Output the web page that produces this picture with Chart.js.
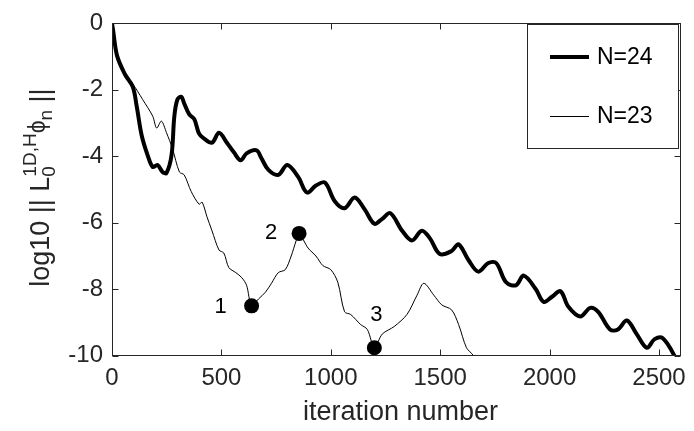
<!DOCTYPE html>
<html><head><meta charset="utf-8">
<script src="https://cdn.jsdelivr.net/npm/chart.js@4/dist/chart.umd.min.js"></script>
<style>html,body{margin:0;padding:0;background:#fff}</style>
</head><body>
<canvas id="c" width="694" height="431"></canvas>
<script>
// ---- data ----
const xTicks = [0, 500, 1000, 1500, 2000, 2500];
const yTicks = [0, -2, -4, -6, -8, -10];

const iterN24 = [0, 5, 23, 59, 95, 113, 136, 163, 186, 208, 231, 249, 272, 285, 299, 317, 330, 353, 376, 398, 421, 457, 489, 525, 557, 588, 615, 661, 683, 715, 760, 801, 851, 891, 932, 973, 1018, 1063, 1109, 1154, 1199, 1235, 1272, 1326, 1371, 1416, 1453, 1498, 1552, 1584, 1629, 1674, 1720, 1756, 1801, 1846, 1882, 1937, 1973, 2014, 2050, 2086, 2140, 2186, 2222, 2276, 2312, 2353, 2398, 2444, 2480, 2516, 2570, 2590];
const valN24  = [0, -0.21, -0.97, -1.53, -1.91, -2.5, -3.38, -3.97, -4.32, -4.26, -4.47, -4.5, -3.97, -2.79, -2.29, -2.21, -2.41, -2.74, -2.88, -3.32, -3.47, -3.59, -3.29, -3.59, -3.88, -4.12, -3.91, -3.82, -4.06, -4.41, -4.56, -4.26, -4.62, -5.09, -4.88, -4.79, -5.35, -5.56, -5.24, -5.59, -6.03, -5.88, -5.71, -6.24, -6.53, -6.24, -6.47, -6.94, -6.85, -6.65, -7.12, -7.47, -7.21, -7.21, -7.79, -7.88, -7.59, -8.0, -8.38, -8.21, -8.06, -8.53, -8.82, -8.56, -8.68, -9.21, -9.21, -8.94, -9.35, -9.76, -9.5, -9.47, -10.0, -10.4];

const iterN23 = [0, 5, 23, 59, 95, 140, 186, 204, 226, 249, 276, 308, 330, 362, 398, 412, 434, 457, 489, 511, 534, 566, 593, 615, 638, 670, 701, 729, 760, 792, 819, 842, 855, 896, 932, 964, 1000, 1032, 1063, 1091, 1136, 1167, 1199, 1235, 1290, 1348, 1394, 1425, 1471, 1507, 1552, 1584, 1620, 1652, 1670];
const valN23  = [0, -0.21, -0.97, -1.53, -1.82, -2.29, -2.79, -3.15, -2.94, -3.29, -3.76, -4.47, -4.56, -5.06, -5.44, -5.38, -5.82, -6.24, -6.82, -6.91, -7.35, -7.5, -7.65, -7.88, -8.5, -8.29, -8.09, -7.82, -7.5, -7.41, -7.0, -6.53, -6.32, -6.76, -7.0, -7.29, -7.41, -7.79, -8.68, -8.76, -9.06, -9.21, -9.76, -9.35, -9.12, -8.76, -8.18, -7.82, -8.18, -8.47, -8.62, -9.06, -9.76, -10.0, -10.3];

const markerIter   = [638, 855, 1199];
const markerVal    = [-8.5, -6.32, -9.76];
const markerLabels = ['1', '2', '3'];

const seriesNames = ['N=24', 'N=23'];

// ---- styling ----
const FONT = '"Liberation Sans", Arial, Helvetica, sans-serif';
const AX = '#262626';

const toPts = (xs, ys) => xs.map((v, i) => ({x: v, y: ys[i]}));

const framePlugin = {
  id: 'frame',
  afterDatasetsDraw(chart) {
    const {ctx, chartArea: a, scales: {x, y}} = chart;
    ctx.save();
    ctx.strokeStyle = AX;
    ctx.lineWidth = 1;
    const L = Math.round(a.left) + 0.5, R = Math.round(a.right) - 0.5;
    const T = Math.round(a.top) + 0.5, B = Math.round(a.bottom) - 0.5;
    ctx.strokeRect(L, T, R - L, B - T);
    ctx.beginPath();
    const tl = 6;
    xTicks.forEach(v => {
      const p = Math.round(x.getPixelForValue(v)) + 0.5;
      ctx.moveTo(p, B); ctx.lineTo(p, B - tl);
      ctx.moveTo(p, T); ctx.lineTo(p, T + tl);
    });
    yTicks.forEach(v => {
      const p = Math.round(y.getPixelForValue(v)) + 0.5;
      ctx.moveTo(L, p); ctx.lineTo(L + tl, p);
      ctx.moveTo(R, p); ctx.lineTo(R - tl, p);
    });
    ctx.stroke();

    // point labels 1,2,3
    ctx.fillStyle = '#000';
    ctx.font = '22px ' + FONT;
    ctx.textAlign = 'center';
    ctx.textBaseline = 'middle';
    const offs = [[-31, 1], [-28, 0], [2, -33]];
    markerIter.forEach((v, i) => {
      const px = x.getPixelForValue(v), py = y.getPixelForValue(markerVal[i]);
      ctx.fillText(markerLabels[i], px + offs[i][0], py + offs[i][1]);
    });

    // legend
    const lx = 527.5, ly = 24.5, lw = 151, lh = 124;
    ctx.fillStyle = '#fff';
    ctx.fillRect(lx, ly, lw, lh);
    ctx.strokeStyle = AX;
    ctx.lineWidth = 1;
    ctx.strokeRect(lx, ly, lw, lh);
    ctx.strokeStyle = '#000';
    ctx.lineWidth = 4;
    ctx.beginPath(); ctx.moveTo(550, 57); ctx.lineTo(589, 57); ctx.stroke();
    ctx.lineWidth = 1;
    ctx.beginPath(); ctx.moveTo(550, 116.5); ctx.lineTo(589, 116.5); ctx.stroke();
    ctx.fillStyle = '#000';
    ctx.font = '23px ' + FONT;
    ctx.textAlign = 'left';
    ctx.textBaseline = 'middle';
    ctx.fillText(seriesNames[0], 597, 58);
    ctx.fillText(seriesNames[1], 597, 117);

    // x title
    ctx.fillStyle = AX;
    ctx.font = '27px ' + FONT;
    ctx.textAlign = 'center';
    ctx.textBaseline = 'alphabetic';
    ctx.fillText('iteration number', (a.left + a.right) / 2 + 4, 420);

    // y title (rotated, with sub/superscripts)
    const big = '27px ' + FONT, small = '19px ' + FONT;
    const pieces = [
      {t: 'log10 || L', f: big, dy: 0, adv: true},
      {t: '0', f: small, dy: 6, adv: false, group: 1},
      {t: '1D,H', f: small, dy: -13, adv: true, group: 1},
      {t: '\u03D5', f: '23px ' + FONT, dy: -4, adv: true},
      {t: 'n', f: small, dy: 3, adv: true},
      {t: ' ||', f: big, dy: 0, adv: true}
    ];
    let total = 0, gmax = 0;
    const widths = pieces.map(p => { ctx.font = p.f; return ctx.measureText(p.t).width; });
    pieces.forEach((p, i) => {
      if (p.group) { gmax = Math.max(gmax, widths[i]); if (p.adv) { total += gmax; gmax = 0; } }
      else total += widths[i];
    });
    ctx.translate(49, (a.top + a.bottom) / 2 - 2);
    ctx.rotate(-Math.PI / 2);
    ctx.textAlign = 'left';
    let cx = -total / 2; gmax = 0;
    pieces.forEach((p, i) => {
      ctx.font = p.f;
      ctx.fillText(p.t, cx, p.dy);
      if (p.group) { gmax = Math.max(gmax, widths[i]); if (p.adv) { cx += gmax; gmax = 0; } }
      else cx += widths[i];
    });
    ctx.restore();
  }
};

new Chart(document.getElementById('c'), {
  type: 'line',
  data: {
    datasets: [
      {
        label: 'markers',
        data: toPts(markerIter, markerVal),
        showLine: false,
        pointRadius: 7.5,
        pointHoverRadius: 7.5,
        pointBackgroundColor: '#000',
        pointBorderColor: '#000',
        pointBorderWidth: 0,
        clip: false
      },
      {
        label: seriesNames[1],
        data: toPts(iterN23, valN23),
        borderColor: '#000',
        borderWidth: 1,
        pointRadius: 0,
        tension: 0.3,
        clip: 0
      },
      {
        label: seriesNames[0],
        data: toPts(iterN24, valN24),
        borderColor: '#000',
        borderWidth: 4,
        pointRadius: 0,
        tension: 0.35,
        borderJoinStyle: 'round',
        borderCapStyle: 'round',
        clip: 0
      }
    ]
  },
  options: {
    responsive: false,
    animation: false,
    devicePixelRatio: 1,
    events: [],
    layout: {padding: {top: 15, right: 7.4, left: 0, bottom: 0}},
    plugins: {legend: {display: false}, tooltip: {enabled: false}},
    scales: {
      x: {
        type: 'linear', min: 0, max: 2600,
        afterBuildTicks: s => { s.ticks = xTicks.map(v => ({value: v})); },
        afterFit: s => { s.height = 75.3; },
        grid: {display: false, drawTicks: false},
        border: {display: false},
        ticks: {
          color: AX, font: {family: FONT, size: 24}, padding: 8,
          maxRotation: 0, autoSkip: false,
          callback: v => String(v)
        }
      },
      y: {
        type: 'linear', min: -10, max: 0,
        afterBuildTicks: s => { s.ticks = yTicks.map(v => ({value: v})); },
        afterFit: s => { s.width = 112; },
        grid: {display: false, drawTicks: false},
        border: {display: false},
        ticks: {
          color: AX, font: {family: FONT, size: 24}, padding: 9,
          autoSkip: false,
          callback: v => String(v)
        }
      }
    }
  },
  plugins: [framePlugin]
});
</script>
</body></html>
